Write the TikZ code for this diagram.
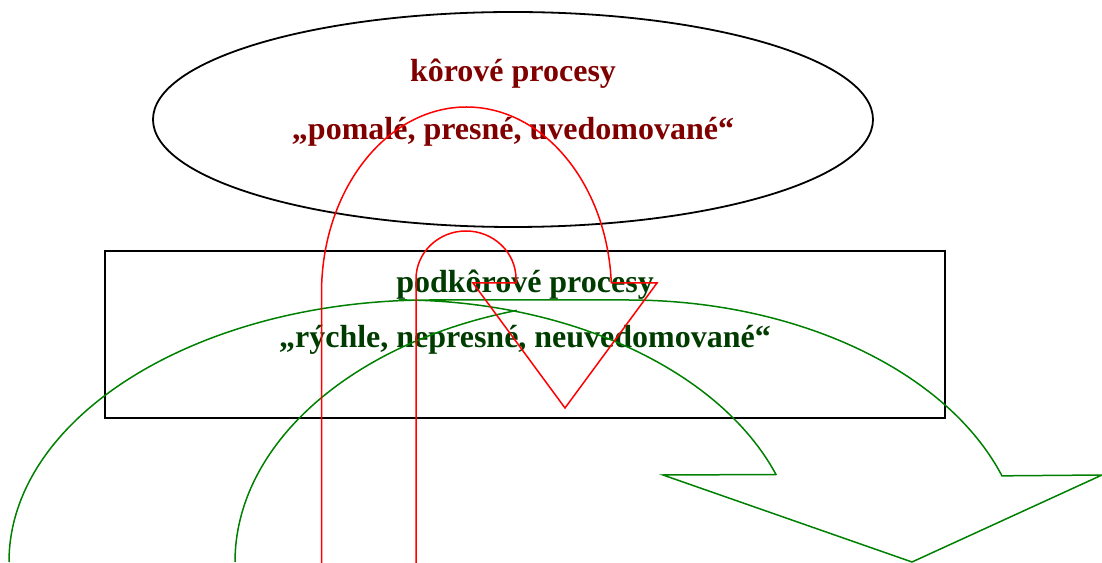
\documentclass[tikz,border=0pt]{standalone}
\usepackage{fontspec}
\setmainfont{Liberation Serif}
\usepackage{xcolor}
\usetikzlibrary{shapes.geometric}

\definecolor{korred}{RGB}{128,0,0}
\definecolor{podgreen}{RGB}{0,60,0}
\definecolor{arrowgreen}{RGB}{0,128,0}

\begin{document}
\begin{tikzpicture}[x=1pt, y=1pt,
    outline/.style={draw=black, line width=1.8pt},
    kortext/.style={anchor=base, inner sep=0pt, text=korred, font=\fontsize{32}{38}\selectfont\bfseries},
    podtext/.style={anchor=base, inner sep=0pt, text=podgreen, font=\fontsize{32}{38}\selectfont\bfseries},
    redarrow/.style={draw=red, line width=1.5pt, line join=miter},
    greenarrow/.style={draw=arrowgreen, line width=1.5pt, line join=miter}]

    \useasboundingbox (0,0) rectangle (1102,562);
    \clip (0,0) rectangle (1102,562);

    % Cortex and subcortex
    \node [outline, ellipse, minimum width=720, minimum height=215] (kora) at (513,442.5) {};
    \node [outline, rectangle, minimum width=840, minimum height=167] (podkora) at (525,227.5) {};

    % Labels
    \node [kortext] (koraA) at (513,480) {kôrové procesy};
    \node [kortext] (koraB) at (513,422) {„pomalé, presné, uvedomované“};
    \node [podtext] (podkoraA) at (525,269) {podkôrové procesy};
    \node [podtext] (podkoraB) at (525,214) {„rýchle, nepresné, neuvedomované“};

    % Green curved arrow
    \draw [greenarrow] (9,0) arc [start angle=180, end angle=90, x radius=421, y radius=262]
        -- (628,262) arc [start angle=90, end angle=19.2, x radius=396, y radius=262]
        -- (1102,87) -- (912,0) -- (663,87) -- (776,87.5)
        arc [start angle=19.5, end angle=90, x radius=400, y radius=262];
    \draw [greenarrow] (235,0) arc [start angle=180, end angle=106.2, x radius=391, y radius=262];

    % Red U-turn arrow
    \draw [redarrow] (321.5,-10) -- (321.5,269)
        arc [start angle=180, end angle=3.1, x radius=145, y radius=186]
        -- (657,279) -- (565,154) -- (473,279) -- (516,279) -- (516,283)
        arc [start angle=0, end angle=180, x radius=50, y radius=48]
        -- (416,-10);
\end{tikzpicture}
\end{document}
